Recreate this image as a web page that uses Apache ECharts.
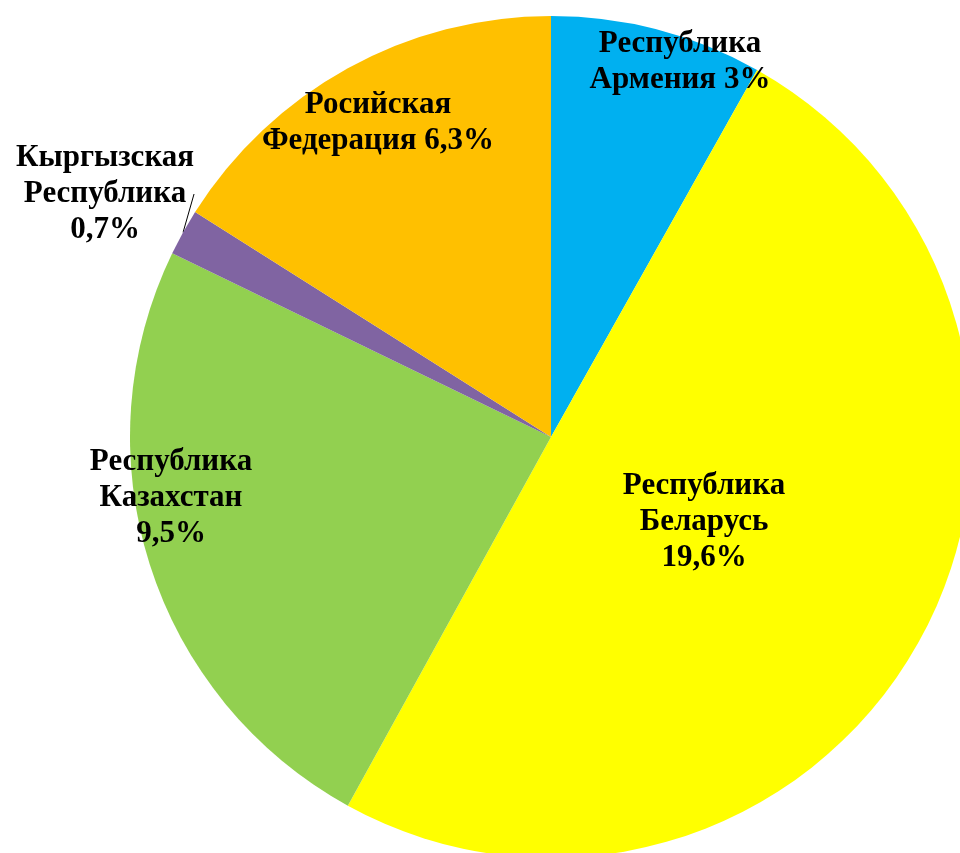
<!DOCTYPE html>
<html>
<head>
<meta charset="utf-8">
<script src="https://cdn.jsdelivr.net/npm/echarts@6/dist/echarts.min.js"></script>
<style>
  html, body { margin: 0; padding: 0; background: #fff; }
  #chart { width: 960px; height: 853px; }
</style>
</head>
<body>
<div id="chart"></div>
<script>
// labels as printed; slice sizes
const names = [
  "Республика\nАрмения 3%",
  "Республика\nБеларусь\n19,6%",
  "Республика\nКазахстан\n9,5%",
  "Кыргызская\nРеспублика\n0,7%",
  "Росийская\nФедерация 6,3%"
];
const values = [3.2, 19.6, 9.5, 0.7, 6.3];
const colors = ["#00B0F0", "#FFFF00", "#92D050", "#8064A2", "#FFC000"];

// where each label sits (centre of the text block, px)
const labelPos = [[680, 62], [704, 522], [171, 498], [105, 194], [378, 123]];

const chart = echarts.init(document.getElementById("chart"), null, { renderer: "canvas" });

const seriesData = names.map((n, i) => ({
  name: n,
  value: values[i],
  itemStyle: { color: colors[i] },
  label: { position: i === 3 ? "outside" : "inside" },
  labelLine: { show: i === 3 }
}));

chart.setOption({
  animation: false,
  series: [{
    type: "pie",
    center: [551, 437],
    radius: 421,
    startAngle: 90,
    clockwise: true,
    data: seriesData,
    itemStyle: { borderWidth: 0 },
    label: {
      formatter: "{b}",
      color: "#000",
      fontFamily: "Liberation Serif",
      fontWeight: "bold",
      fontSize: 31,
      lineHeight: 36,
      align: "center",
      overflow: "none"
    },
    labelLine: {
      length: 14,
      length2: 0,
      lineStyle: { color: "#000", width: 1 }
    },
    labelLayout: function (params) {
      const p = labelPos[params.dataIndex];
      return { x: p[0], y: p[1], align: "center", verticalAlign: "middle" };
    }
  }]
});
</script>
</body>
</html>
